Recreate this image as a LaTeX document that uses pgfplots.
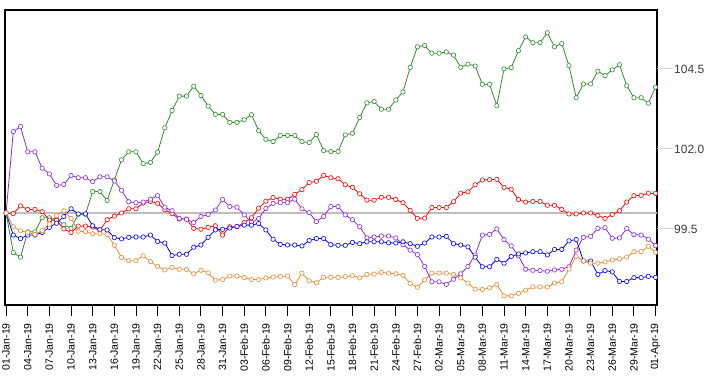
\documentclass[border=0pt]{standalone}
\usepackage{fontspec}
\setmainfont{Liberation Sans}
\usepackage{pgfplots}
\usepackage{pgfplotstable}
\pgfplotsset{compat=1.18}
\definecolor{cgreen}{RGB}{46,139,46}
\definecolor{cpurple}{RGB}{138,43,226}
\definecolor{cred}{RGB}{255,0,0}
\definecolor{cblue}{RGB}{0,0,255}
\definecolor{corange}{RGB}{228,140,50}
\definecolor{tickgray}{RGB}{210,210,210}
\definecolor{labgray}{RGB}{60,60,60}
\definecolor{refgray}{RGB}{190,190,190}
\newcommand{\ytl}[1]{{\color{tickgray}\rule[4.2pt]{16pt}{0.9pt}}\hspace{1pt}{\color{labgray}#1}}
\pgfplotstableread{
d g p r b o
0 100.00 100.00 100.00 100.00 100.00
1 98.76 102.54 99.98 99.31 99.57
2 98.62 102.70 100.22 99.20 99.44
3 99.41 101.91 100.11 99.31 99.39
4 99.41 101.91 100.11 99.31 99.33
5 99.85 101.40 100.04 99.39 99.45
6 99.85 101.22 99.78 99.55 99.65
7 99.81 100.86 99.77 99.68 99.92
8 99.63 100.89 99.50 99.89 100.07
9 99.52 101.17 99.39 100.13 99.83
10 99.96 101.10 99.59 99.97 99.43
11 99.96 101.10 99.59 99.97 99.42
12 100.67 100.98 99.56 99.60 99.35
13 100.67 101.13 99.45 99.48 99.35
14 100.39 101.13 99.79 99.47 99.33
15 101.03 101.00 99.90 99.23 98.99
16 101.66 100.71 100.00 99.19 98.61
17 101.91 100.35 100.13 99.24 98.51
18 101.91 100.32 100.13 99.25 98.51
19 101.54 100.34 100.31 99.25 98.66
20 101.58 100.43 100.36 99.31 98.48
21 101.90 100.54 100.30 99.11 98.33
22 102.66 100.18 100.10 99.06 98.22
23 103.20 100.07 99.98 98.67 98.30
24 103.65 99.83 99.81 98.71 98.24
25 103.65 99.80 99.81 98.71 98.24
26 103.96 99.70 99.52 98.93 98.10
27 103.67 99.89 99.49 99.00 98.21
28 103.34 99.95 99.55 99.24 98.13
29 103.08 100.09 99.60 99.47 97.90
30 103.08 100.42 99.31 99.49 97.92
31 102.83 100.20 99.57 99.53 98.03
32 102.83 100.18 99.57 99.58 98.03
33 102.91 99.94 99.70 99.62 97.98
34 103.07 99.70 99.85 99.62 97.92
35 102.57 99.83 100.15 99.67 97.92
36 102.30 100.14 100.37 99.47 97.97
37 102.23 100.30 100.48 99.18 98.00
38 102.42 100.32 100.43 99.02 98.02
39 102.42 100.32 100.43 99.00 98.03
40 102.42 100.43 100.58 99.00 97.76
41 102.23 100.13 100.73 98.97 98.12
42 102.20 100.01 100.95 99.14 97.88
43 102.45 99.73 100.99 99.20 97.82
44 101.95 99.89 101.17 99.20 97.99
45 101.92 100.20 101.10 99.01 97.99
46 101.92 100.20 101.07 98.99 97.99
47 102.44 99.94 100.88 98.99 98.01
48 102.49 99.79 100.80 99.08 98.04
49 102.98 99.57 100.60 99.04 97.97
50 103.44 99.22 100.40 99.10 98.08
51 103.48 99.25 100.40 99.10 98.09
52 103.24 99.28 100.49 99.10 98.14
53 103.24 99.28 100.49 99.07 98.12
54 103.53 99.22 100.42 99.06 98.10
55 103.78 99.01 100.32 99.10 98.05
56 104.55 98.84 100.08 99.04 97.80
57 105.19 98.70 99.83 98.96 97.68
58 105.23 98.33 99.84 99.06 97.91
59 104.99 97.85 100.17 99.25 98.12
60 104.99 97.85 100.17 99.25 98.12
61 105.03 97.77 100.17 99.27 98.12
62 104.93 97.93 100.35 99.04 98.08
63 104.55 98.10 100.62 99.00 97.97
64 104.65 98.33 100.66 98.94 97.81
65 104.59 98.69 100.88 98.62 97.62
66 104.02 99.31 101.03 98.32 97.61
67 104.02 99.33 101.04 98.32 97.66
68 103.35 99.50 101.05 98.55 97.77
69 104.50 99.17 100.80 98.43 97.41
70 104.54 98.97 100.74 98.64 97.41
71 105.07 98.66 100.42 98.72 97.49
72 105.50 98.24 100.34 98.75 97.59
73 105.32 98.21 100.36 98.79 97.69
74 105.32 98.20 100.36 98.79 97.69
75 105.63 98.18 100.24 98.69 97.69
76 105.19 98.22 100.24 98.86 97.81
77 105.29 98.24 100.11 98.86 97.85
78 104.60 98.32 99.97 99.13 98.25
79 103.60 98.84 99.97 99.17 98.64
80 104.03 99.24 100.00 98.50 98.50
81 104.03 99.27 100.00 98.50 98.43
82 104.43 99.52 99.92 98.08 98.43
83 104.29 99.54 99.83 98.20 98.47
84 104.47 99.21 99.95 98.16 98.53
85 104.63 99.22 100.07 97.86 98.57
86 103.97 99.51 100.34 97.86 98.62
87 103.60 99.32 100.54 97.98 98.79
88 103.60 99.31 100.55 97.98 98.79
89 103.43 99.18 100.62 98.02 98.96
90 103.93 98.98 100.61 97.99 98.77
}\data
\begin{document}
\begin{tikzpicture}
\begin{axis}[
  at={(0,0)}, anchor=south west,
  scale only axis, width=652pt, height=295pt,
  xmin=-0.15, xmax=90.2, ymin=97.125, ymax=106.34,
  axis line style={black, line width=1.1pt},
  xtick={0,3,...,90},
  xticklabels={01-Jan-19,04-Jan-19,07-Jan-19,10-Jan-19,13-Jan-19,16-Jan-19,19-Jan-19,22-Jan-19,25-Jan-19,28-Jan-19,31-Jan-19,03-Feb-19,06-Feb-19,09-Feb-19,12-Feb-19,15-Feb-19,18-Feb-19,21-Feb-19,24-Feb-19,27-Feb-19,02-Mar-19,05-Mar-19,08-Mar-19,11-Mar-19,14-Mar-19,17-Mar-19,20-Mar-19,23-Mar-19,26-Mar-19,29-Mar-19,01-Apr-19},
  tick align=outside, major tick length=11pt,
  x tick style={black, line width=0.9pt},
  xtick pos=bottom,
  xticklabel style={rotate=90, anchor=east, font=\fontsize{10.5}{12}\selectfont, inner sep=0pt},
  xticklabel shift=7pt,
  ytick={99.5,102,104.5},
  yticklabels={\ytl{99.5},\ytl{102.0},\ytl{104.5}},
  ytick style={draw=none},
  ytick pos=right,
  yticklabel pos=right,
  yticklabel style={anchor=west, inner sep=0pt, xshift=-11pt, font=\fontsize{12}{14}\selectfont},
  every axis plot/.append style={line width=0.8pt, mark=*, mark size=2.2pt, mark options={fill=white, line width=0.6pt}},
]
\addplot[refgray, line width=1.3pt, mark=none, forget plot] coordinates {(-1,100) (91,100)};
\addplot[cgreen] table[x=d,y=g]{\data};
\addplot[cred] table[x=d,y=r]{\data};
\addplot[cpurple] table[x=d,y=p]{\data};
\addplot[cblue] table[x=d,y=b]{\data};
\addplot[corange] table[x=d,y=o]{\data};
\end{axis}
\pgfresetboundingbox
\path (-5pt,-71pt) rectangle (709pt,305pt);
\end{tikzpicture}
\end{document}
